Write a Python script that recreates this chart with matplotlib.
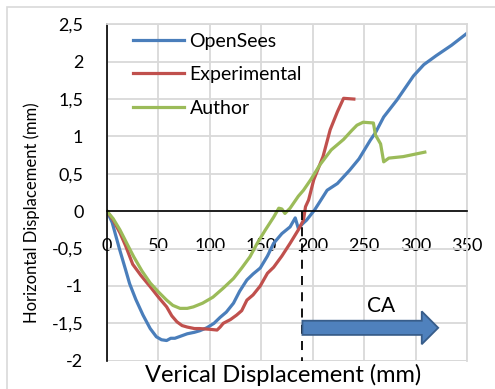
import matplotlib
matplotlib.use("Agg")
import matplotlib.pyplot as plt
from matplotlib.patches import FancyArrow, Rectangle

plt.rcParams['font.family'] = ['Lato', 'DejaVu Sans']

# OpenSees model
opensees_x = [0, 5, 12, 18, 22, 28, 35, 42, 48, 53, 58, 62, 66, 72, 78, 85, 90, 97,
              104, 110, 116, 123, 129, 136, 142, 149, 156, 162, 170, 178, 183, 186,
              190, 194, 202, 208, 214, 224, 236, 245, 256, 261, 269, 282, 290, 298,
              308, 320, 335, 350]
opensees_y = [0, -0.15, -0.50, -0.78, -0.97, -1.18, -1.39, -1.57, -1.68, -1.72, -1.73,
              -1.70, -1.70, -1.67, -1.64, -1.62, -1.60, -1.56, -1.50, -1.42, -1.35,
              -1.23, -1.07, -0.92, -0.84, -0.76, -0.60, -0.43, -0.30, -0.21, -0.09,
              -0.23, -0.17, -0.12, 0.02, 0.15, 0.28, 0.37, 0.55, 0.70, 0.95, 1.05,
              1.26, 1.49, 1.65, 1.81, 1.96, 2.08, 2.22, 2.38]

# experimental test
exp_x = [0, 6, 12.6, 18, 25, 33, 42, 50, 58, 63, 68, 73, 78, 85, 90, 100, 107, 110,
         113, 120, 126, 131, 136, 142, 149, 156, 162, 170, 178, 186, 191, 193, 196,
         201, 210, 217, 224, 230, 240]
exp_y = [0, -0.12, -0.29, -0.46, -0.71, -0.86, -1.01, -1.15, -1.28, -1.40, -1.48,
         -1.53, -1.55, -1.57, -1.57, -1.58, -1.59, -1.55, -1.50, -1.45, -1.39, -1.33,
         -1.19, -1.12, -1.00, -0.83, -0.75, -0.60, -0.43, -0.25, -0.12, 0.06, 0.15,
         0.42, 0.73, 1.09, 1.33, 1.51, 1.50]

# author's model
author_x = [0, 6, 12.6, 20, 26, 34, 42, 50, 58, 64, 71, 78, 84, 93, 103, 113, 123, 131,
            139, 146, 154, 162, 167, 170, 173, 178, 186, 191, 198, 207, 218, 230, 238,
            243, 249, 259, 261, 266, 269, 274, 288, 309]
author_y = [0, -0.10, -0.25, -0.45, -0.61, -0.80, -0.96, -1.08, -1.19, -1.26, -1.30,
            -1.30, -1.28, -1.23, -1.15, -1.03, -0.90, -0.76, -0.61, -0.43, -0.25, -0.08,
            0.04, 0.03, -0.03, 0.04, 0.20, 0.28, 0.42, 0.62, 0.82, 0.96, 1.08, 1.15,
            1.19, 1.18, 1.02, 0.90, 0.66, 0.71, 0.73, 0.79]

x_ticks = [0, 50, 100, 150, 200, 250, 300, 350]
y_ticks = [-2, -1.5, -1, -0.5, 0, 0.5, 1, 1.5, 2, 2.5]
y_tick_labels = ['-2', '-1,5', '-1', '-0,5', '0', '0,5', '1', '1,5', '2', '2,5']

ca_start = 190
ca_end = 322
ca_y = -1.56

fig = plt.figure(figsize=(4.95, 3.89), dpi=100)
fig.patches.append(Rectangle((6.5 / 495, -0.1), 1.2, (389 - 6.5) / 389 + 0.1,
                             transform=fig.transFigure, fill=False,
                             edgecolor='#D9D9D9', linewidth=1.2))
ax = fig.add_axes([107 / 495, 28.3 / 389, 360 / 495, 336.4 / 389])

ax.plot(opensees_x, opensees_y, color='#4A7EBB', lw=2.3, label='OpenSees')
ax.plot(exp_x, exp_y, color='#C0504D', lw=2.3, label='Experimental')
ax.plot(author_x, author_y, color='#9BBB59', lw=2.3, label='Author')

ax.set_xlim(0, 350)
ax.set_ylim(-2, 2.5)
ax.set_xticks(x_ticks)
ax.set_yticks(y_ticks)
ax.set_yticklabels(y_tick_labels)
ax.grid(True, color='#D9D9D9', lw=1.3)
ax.set_axisbelow(True)

for side in ['top', 'right']:
    ax.spines[side].set_color('#D9D9D9')
    ax.spines[side].set_linewidth(1.3)
ax.spines['bottom'].set_position(('data', 0))
ax.spines['bottom'].set_color('black')
ax.spines['bottom'].set_linewidth(1.2)
ax.spines['left'].set_color('black')
ax.spines['left'].set_linewidth(1.2)
ax.tick_params(axis='both', length=0, labelsize=13)
ax.tick_params(axis='x', pad=19)
ax.tick_params(axis='y', pad=17)

# bottom frame line at -2
ax.axhline(-2, color='#D9D9D9', lw=1.3, zorder=0)

ax.set_xlabel('Verical Displacement (mm)', fontsize=17, va='center')
ax.xaxis.set_label_coords(0.49, -0.043)
ax.set_ylabel('Horizontal Displacement (mm)', fontsize=12, va='center')
ax.yaxis.set_label_coords(-0.21, 0.44)

# collapse region marker
ax.plot([ca_start, ca_start], [0, -2], color='black', lw=1.3, dashes=(5, 4),
        clip_on=False)
ax.add_patch(FancyArrow(ca_start, ca_y, ca_end - ca_start, 0, width=0.19,
                        head_width=0.44, head_length=16, length_includes_head=True,
                        facecolor='#4F81BD', edgecolor='#385D8A', lw=1.3, zorder=5))
ax.text(266, -1.27, 'CA', fontsize=15, ha='center', va='center')

leg = ax.legend(loc='upper left', bbox_to_anchor=(0.04, 1.01), frameon=False,
                fontsize=14, handlelength=2.6, handletextpad=0.3, labelspacing=0.85,
                borderaxespad=0.2)

fig.savefig('out.png', dpi=100)
